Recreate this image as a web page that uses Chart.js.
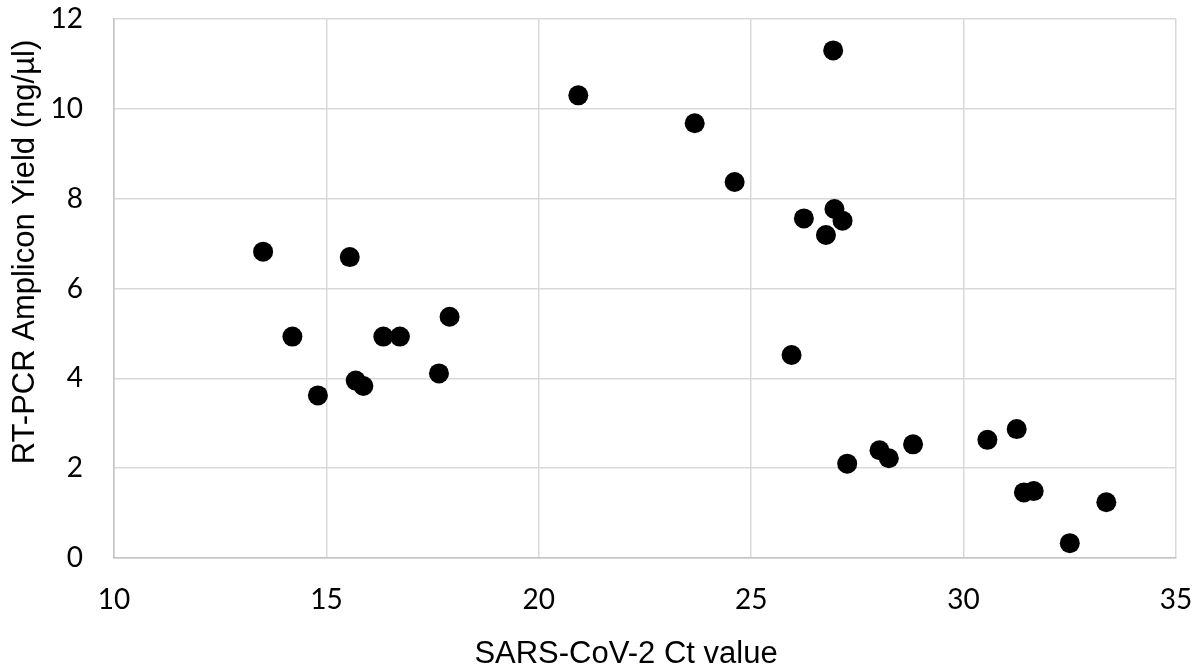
<!DOCTYPE html>
<html>
<head>
<meta charset="utf-8">
<script src="https://cdn.jsdelivr.net/npm/chart.js@4/dist/chart.umd.min.js"></script>
<style>
  html, body { margin: 0; padding: 0; background: #fff; }
  #wrap { width: 1198px; height: 671px; }
</style>
</head>
<body>
<div id="wrap"><canvas id="chart"></canvas></div>
<script>
// Ct values (x) and amplicon yield in ng/µl (y)
const ctValues = [13.51, 14.20, 14.80, 15.55, 15.69, 15.87, 16.34, 16.73, 17.65, 17.90,
                  20.93, 23.67, 24.61, 25.95, 26.24, 26.76, 26.93, 26.96, 27.15, 27.26,
                  28.02, 28.24, 28.81, 30.56, 31.25, 31.42, 31.65, 32.50, 33.36];
const yields   = [6.82, 4.93, 3.62, 6.70, 3.95, 3.83, 4.93, 4.93, 4.11, 5.37,
                  10.30, 9.68, 8.37, 4.52, 7.56, 7.19, 11.30, 7.77, 7.51, 2.10,
                  2.40, 2.22, 2.53, 2.63, 2.87, 1.46, 1.49, 0.33, 1.24];

const xTitle = 'SARS-CoV-2 Ct value';
const yTitle = 'RT-PCR Amplicon Yield (ng/µl)';

// axis titles are placed like in the original (not centred on the plot)
const axisTitles = {
    id: 'axisTitles',
    afterDraw(chart) {
        const c = chart.ctx;
        c.save();
        c.fillStyle = '#000';
        c.font = '31px "Liberation Sans", Arial, sans-serif';
        c.textAlign = 'center';
        c.textBaseline = 'middle';
        c.fillText(xTitle, 626, 654);
        c.translate(25, 252);
        c.rotate(-Math.PI / 2);
        c.fillText(yTitle, 0, 0);
        c.restore();
    }
};

new Chart(document.getElementById('chart'), {
    type: 'scatter',
    data: {
        datasets: [{
            data: ctValues.map((x, i) => ({ x: x, y: yields[i] })),
            backgroundColor: '#000',
            borderWidth: 0,
            pointRadius: 10,
            pointHoverRadius: 10,
        }]
    },
    options: {
        responsive: true,
        maintainAspectRatio: false,
        animation: false,
        layout: { autoPadding: false, padding: { top: 19, right: 22, left: 0, bottom: 0 } },
        plugins: { legend: { display: false }, tooltip: { enabled: false } },
        scales: {
            x: {
                type: 'linear',
                min: 10, max: 35,
                // fixed size, no extra room for the end labels
                afterFit: s => { s.height = 113; s.paddingLeft = 0; s.paddingRight = 0; },
                ticks: { stepSize: 5, padding: 25, color: '#000',
                         font: { family: 'Lato', size: 28 } },
                grid: { color: '#d9d9d9', lineWidth: 1.5, drawTicks: false },
                border: { color: '#c4c4c4', width: 1.5 }
            },
            y: {
                min: 0, max: 12,
                afterFit: s => { s.width = 114; s.paddingTop = 0; s.paddingBottom = 0; },
                ticks: { stepSize: 2, padding: 31, color: '#000',
                         font: { family: 'Lato', size: 28 } },
                grid: { color: '#d9d9d9', lineWidth: 1.5, drawTicks: false },
                border: { color: '#c4c4c4', width: 1.5 }
            }
        }
    },
    plugins: [axisTitles]
});
</script>
</body>
</html>
